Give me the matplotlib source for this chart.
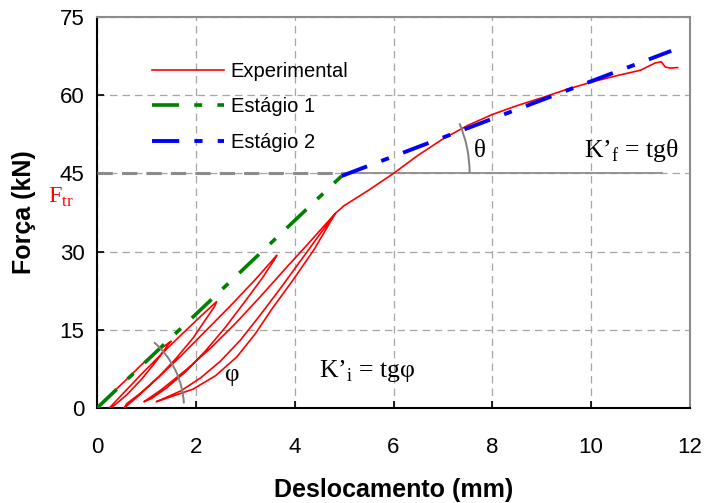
import matplotlib
matplotlib.use('Agg')
import matplotlib.pyplot as plt
from matplotlib.patches import Arc
from matplotlib.transforms import ScaledTranslation

plt.rcParams['font.family'] = 'Liberation Sans'
plt.rcParams['mathtext.fontset'] = 'custom'
plt.rcParams['mathtext.rm'] = 'Liberation Serif'

# experimental curve (cyclic loading)
exp_x = [0.0, 0.3, 0.6, 0.9, 1.2, 1.5,
         1.45, 1.2, 0.9, 0.6, 0.35, 0.25,
         0.5, 0.9, 1.3, 1.7, 2.1, 2.42,
         2.38, 2.2, 1.95, 1.6, 1.25, 0.9, 0.6, 0.55,
         0.8, 1.2, 1.7, 2.2, 2.7, 3.2, 3.64,
         3.58, 3.35, 3.0, 2.6, 2.2, 1.8, 1.4, 1.1, 0.95,
         1.3, 1.8, 2.3, 2.8, 3.3, 3.8, 4.3, 4.82,
         4.75, 4.5, 4.1, 3.7, 3.3, 2.9, 2.5, 2.1, 1.7, 1.3, 1.2,
         1.6, 1.94, 2.4, 2.83, 3.2, 3.54, 3.97, 4.4, 4.82,
         5.0, 5.5, 6.0, 6.5, 7.0, 7.5, 8.0, 8.5, 9.0, 9.5, 10.0, 10.5,
         11.0, 11.3, 11.42, 11.5, 11.6, 11.75]
exp_y = [0.0, 2.8, 5.5, 8.3, 10.8, 12.8,
         12.3, 9.0, 5.5, 2.5, 0.5, 0.0,
         2.5, 6.5, 10.3, 14.0, 17.6, 20.4,
         19.5, 17.0, 13.5, 9.5, 6.0, 3.0, 0.8, 0.0,
         2.0, 5.5, 10.0, 14.8, 19.6, 24.6, 29.3,
         28.3, 25.0, 20.5, 15.5, 11.0, 7.0, 3.8, 1.8, 1.2,
         3.5, 7.3, 11.5, 16.2, 21.3, 26.6, 31.8, 37.3,
         36.3, 33.2, 28.0, 22.8, 17.8, 13.0, 9.0, 5.8, 3.3, 1.6, 1.2,
         2.5, 3.6, 6.2, 9.8, 14.2, 19.0, 24.6, 30.5, 37.3,
         38.8, 41.8, 45.0, 48.5, 51.6, 54.2, 56.3, 58.0, 59.5, 61.1, 62.5, 63.7,
         64.8, 66.2, 66.4, 65.4, 65.2, 65.3]

# fitted stages
st1_x = [0.0, 4.95]
st1_y = [0.0, 44.5]
st2_x = [4.95, 11.62]
st2_y = [44.5, 68.5]

f_tr = 45.0
xticks = [0, 2, 4, 6, 8, 10, 12]
yticks = [0, 15, 30, 45, 60, 75]

fig = plt.figure(figsize=(7.04, 5.03), dpi=100)
ax = fig.add_axes([0.1378, 0.1889, 0.8423, 0.7773])

ax.set_xlim(0, 12)
ax.set_ylim(0, 75)
ax.set_xticks(xticks)
ax.set_yticks(yticks)
ax.grid(True, color='#a6a6a6', linestyle=(0, (6, 4)), linewidth=0.9)
ax.tick_params(direction='in', length=5, width=1.2, labelsize=16)
ax.tick_params(axis='x', pad=21)
ax.tick_params(axis='y', pad=9)
for s in ['left', 'bottom']:
    ax.spines[s].set_linewidth(1.5)
    ax.spines[s].set_color('black')
for s in ['top', 'right']:
    ax.spines[s].set_linewidth(1.5)
    ax.spines[s].set_color('#8c8c8c')

# F_tr reference lines
ax.plot([0, st2_x[0]], [f_tr, f_tr], color='#8c8c8c', lw=2.2,
        linestyle=(0, (5, 3)), zorder=3)
ax.plot([st2_x[0], 11.43], [f_tr, f_tr], color='#8c8c8c', lw=1.3, zorder=3)

ax.plot(exp_x, exp_y, color='red', lw=1.2, label='Experimental', zorder=4)
ax.plot(st1_x, st1_y, color='green', lw=2.6, dashes=(7.5, 4.2, 2.2, 4.2),
        label='Estágio 1', zorder=5)
ax.plot(st2_x, st2_y, color='blue', lw=2.8, dashes=(7.0, 3.9, 2.1, 3.9),
        label='Estágio 2', zorder=5)


def angle_arc(center, r_in, t1, t2):
    tr = fig.dpi_scale_trans + ScaledTranslation(center[0], center[1], ax.transData)
    ax.add_patch(Arc((0, 0), 2 * r_in, 2 * r_in, theta1=t1, theta2=t2,
                     transform=tr, color='gray', lw=1.4, zorder=6))


angle_arc((0, 0), 0.87, 3, 49)
angle_arc((st2_x[0], f_tr), 1.28, 0, 23)

serif = 'Liberation Serif'
ax.text(7.62, 48.1, 'θ', fontsize=18, family=serif, va='baseline')
ax.text(9.85, 48.1, 'K’$_{\\mathrm{f}}$ = tgθ', fontsize=18.5, family=serif, va='baseline')
ax.text(2.6, 5.2, 'φ', fontsize=18, family=serif, va='baseline')
ax.text(4.5, 5.95, 'K’$_{\\mathrm{i}}$ = tgφ', fontsize=18.5, family=serif, va='baseline')
ax.text(-0.99, 39.3, 'F$_{\\mathrm{tr}}$', fontsize=17.5, family=serif, color='red',
        va='baseline', clip_on=False)

ax.set_xlabel('Deslocamento (mm)', fontsize=18, fontweight='bold', labelpad=14)
ax.set_ylabel('Força (kN)', fontsize=18, fontweight='bold', labelpad=17)

ax.legend(loc='upper left', bbox_to_anchor=(0.0927, 0.885), frameon=False,
          fontsize=14.5, handlelength=3.6, handletextpad=0.3, labelspacing=0.82,
          borderaxespad=0, borderpad=0)

fig.savefig('out.png', dpi=100)
